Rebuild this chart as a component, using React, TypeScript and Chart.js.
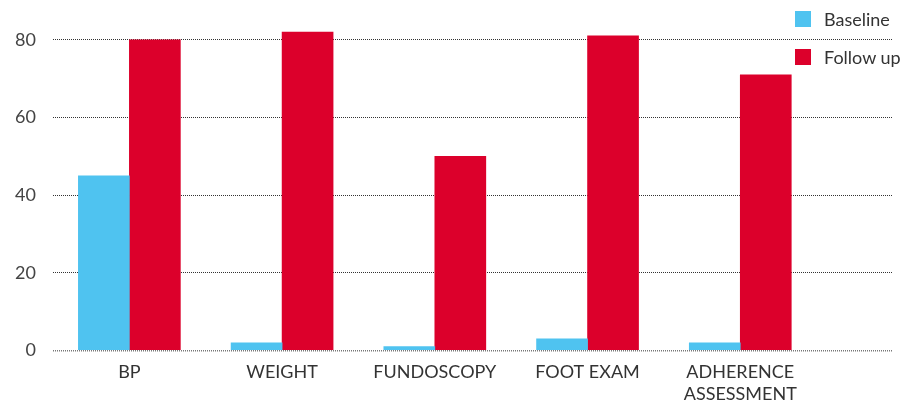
import React, { useEffect, useRef } from "react";
import { Chart, registerables } from "chart.js";

Chart.register(...registerables);

const categories: (string | string[])[] = ["BP", "WEIGHT", "FUNDOSCOPY", "FOOT EXAM", ["ADHERENCE", "ASSESSMENT"]];
const baselineValues = [45, 2, 1, 3, 2];
const followUpValues = [80, 82, 50, 81, 71];
const seriesNames = ["Baseline", "Follow up"];
const seriesColors = ["#4FC3F0", "#DC002B"];
const yTicks = [0, 20, 40, 60, 80];

const FONT = "Lato, 'Noto Sans', sans-serif";

export default function App() {
  const ref = useRef<HTMLCanvasElement | null>(null);

  useEffect(() => {
    if (!ref.current) return;
    const chart = new Chart(ref.current, {
      type: "bar",
      data: {
        datasets: [
          {
            label: seriesNames[0],
            data: baselineValues.map((v, i) => ({ x: i, y: v })),
            backgroundColor: seriesColors[0],
            borderWidth: 0,
          },
          {
            label: seriesNames[1],
            data: followUpValues.map((v, i) => ({ x: i, y: v })),
            backgroundColor: seriesColors[1],
            borderWidth: 0,
          },
        ],
      },
      options: {
        animation: false,
        responsive: true,
        maintainAspectRatio: false,
        layout: { padding: { top: 1, right: 17, left: 0, bottom: 0 } },
        plugins: {
          legend: { display: false },
          tooltip: { enabled: false },
        },
        datasets: {
          bar: { barThickness: 51, grouped: true },
        },
        scales: {
          x: {
            type: "linear",
            bounds: "data",
            offset: false,
            min: -0.5,
            max: 5,
            afterBuildTicks: (s: any) => {
              s.ticks = categories.map((_, i) => ({ value: i }));
            },
            ticks: {
              autoSkip: false,
              maxRotation: 0,
              padding: 11,
              color: "#333333",
              font: { family: FONT, size: 18, lineHeight: 1.2 },
              callback: (value: any) => {
                const v = Number(value);
                if (Number.isInteger(v) && v >= 0 && v < categories.length) return categories[v] as any;
                return "";
              },
            },
            grid: { display: false, drawTicks: false, offset: false },
            border: { display: false },
            afterFit: (s: any) => {
              s.height = 52.5;
              s.paddingLeft = 0;
              s.paddingRight = 0;
            },
          },
          y: {
            bounds: "data",
            min: 0,
            max: 90,
            afterBuildTicks: (s: any) => {
              s.ticks = yTicks.map((v) => ({ value: v }));
            },
            ticks: {
              padding: 17,
              color: "#444444",
              font: { family: FONT, size: 18 },
            },
            grid: {
              drawTicks: false,
              color: (ctx: any) => (ctx.tick && ctx.tick.value === 0 ? "#777777" : "#333333"),
              lineWidth: (ctx: any) => (ctx.tick && ctx.tick.value === 0 ? 1.5 : 1),
            },
            border: { display: false, dash: [1, 1] },
            afterFit: (s: any) => {
              s.width = 53;
              s.paddingTop = 0;
              s.paddingBottom = 0;
            },
          },
        },
      },
    } as any);
    return () => chart.destroy();
  }, []);

  return (
    <div style={{ position: "absolute", left: 0, top: 0, width: 910, height: 403 }}>
      <canvas ref={ref} />
      <div style={{ position: "absolute", left: 795, top: 11, fontFamily: FONT, fontSize: 18, color: "#333333" }}>
        {seriesNames.map((name, i) => (
          <div key={name} style={{ display: "flex", alignItems: "center", height: 16, marginBottom: 22 }}>
            <span style={{ display: "inline-block", width: 16, height: 16, background: seriesColors[i], marginRight: 13 }} />
            <span style={{ lineHeight: "16px", whiteSpace: "nowrap" }}>{name}</span>
          </div>
        ))}
      </div>
    </div>
  );
}
